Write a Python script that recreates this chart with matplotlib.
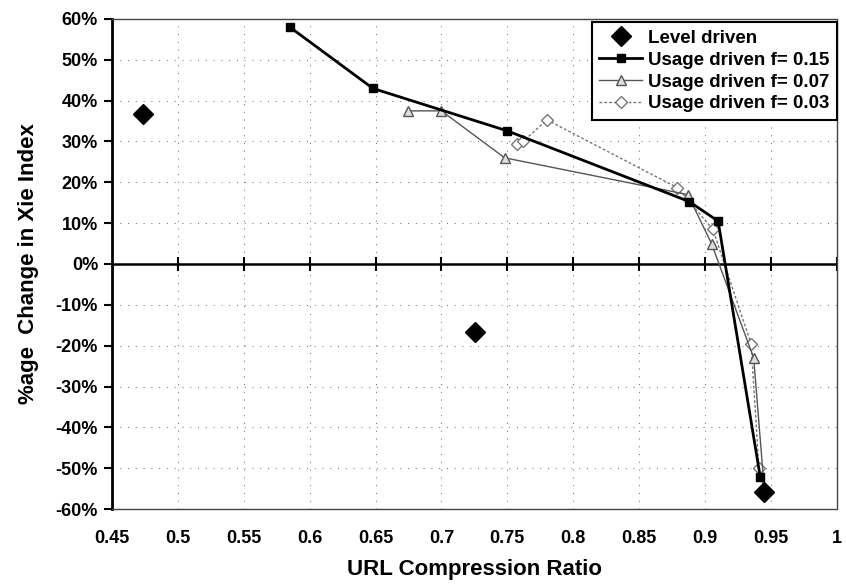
import matplotlib
matplotlib.use("Agg")
import matplotlib.pyplot as plt
import numpy as np

plt.rcParams['font.family'] = ['Liberation Sans', 'DejaVu Sans']
plt.rcParams['font.weight'] = 'bold'

# Data (x = URL compression ratio, y = % change)
level_x = [0.4735, 0.7254, 0.945]
level_y = [36.8, -16.7, -55.9]

f15_x = [0.585, 0.648, 0.75, 0.888, 0.910, 0.942]
f15_y = [58.0, 43.0, 32.6, 15.3, 10.5, -52.2]

f07_x = [0.675, 0.700, 0.748, 0.887, 0.905, 0.937, 0.945]
f07_y = [37.5, 37.5, 26.0, 17.0, 5.0, -23.0, -55.0]

f03_x = [0.757, 0.762, 0.780, 0.879, 0.906, 0.935, 0.941, 0.945]
f03_y = [29.5, 30.0, 35.3, 18.7, 8.5, -19.5, -50.0, -55.5]

xticks = [0.45, 0.5, 0.55, 0.6, 0.65, 0.7, 0.75, 0.8, 0.85, 0.9, 0.95, 1.0]
xtick_labels = ['0.45', '0.5', '0.55', '0.6', '0.65', '0.7', '0.75', '0.8', '0.85', '0.9', '0.95', '1']
yticks = [60, 50, 40, 30, 20, 10, 0, -10, -20, -30, -40, -50, -60]
ytick_labels = [f"{v}%" for v in yticks]

fig = plt.figure(figsize=(8.46, 5.84), dpi=100)
ax = fig.add_axes([0.1324, 0.1284, 0.8566, 0.8391])

ax.set_xlim(0.45, 1.0)
ax.set_ylim(-60, 60)

ax.grid(True, linestyle=(0, (1, 7)), color='#666666', linewidth=0.7)
ax.set_axisbelow(True)

ax.axhline(0, color='black', linewidth=1.8, zorder=2)
ax.plot(xticks, [0]*len(xticks), linestyle='none', marker='|', markersize=10,
        color='black', markeredgewidth=1.5, zorder=2)

ax.plot(f03_x, f03_y, linestyle=(0, (2, 1.5)), color='#777777', linewidth=1.0,
        marker='D', markersize=6, markerfacecolor='white', markeredgecolor='#777777',
        label='Usage driven f= 0.03', zorder=3)
ax.plot(f07_x, f07_y, linestyle='-', color='#555555', linewidth=1.0,
        marker='^', markersize=7, markerfacecolor='#dddddd', markeredgecolor='#555555',
        label='Usage driven f= 0.07', zorder=4)
ax.plot(f15_x, f15_y, linestyle='-', color='black', linewidth=2.0,
        marker='s', markersize=6, markerfacecolor='black', markeredgecolor='black',
        label='Usage driven f= 0.15', zorder=5)
ax.plot(level_x, level_y, linestyle='none', marker='D', markersize=10,
        color='black', label='Level driven', zorder=6)

ax.set_xticks(xticks)
ax.set_xticklabels(xtick_labels, fontsize=13, fontweight='bold')
ax.set_yticks(yticks)
ax.set_yticklabels(ytick_labels, fontsize=13, fontweight='bold')
ax.tick_params(axis='x', length=0, pad=15)
ax.tick_params(axis='y', direction='out', length=6, width=1.5, pad=4)

for s in ['top', 'right', 'bottom']:
    ax.spines[s].set_linestyle((0, (2, 1)))
    ax.spines[s].set_color('#444444')
    ax.spines[s].set_linewidth(1.0)
ax.spines['left'].set_linewidth(2.0)

ax.set_xlabel('URL Compression Ratio', fontsize=16, fontweight='bold', labelpad=9)
ax.set_ylabel('%age  Change in Xie Index', fontsize=16, fontweight='bold', labelpad=12)

handles, labels = ax.get_legend_handles_labels()
order = [3, 2, 1, 0]
leg = ax.legend([handles[i] for i in order], [labels[i] for i in order],
                loc='upper right', bbox_to_anchor=(1.0, 0.993),
                frameon=True, fancybox=False, edgecolor='black', framealpha=1,
                handlelength=2.3, handletextpad=0.3, borderpad=0.4, labelspacing=0.25,
                borderaxespad=0.0,
                prop={'weight': 'bold', 'size': 13.5})
leg.get_frame().set_linewidth(1.5)

fig.savefig('out.png', dpi=100)
